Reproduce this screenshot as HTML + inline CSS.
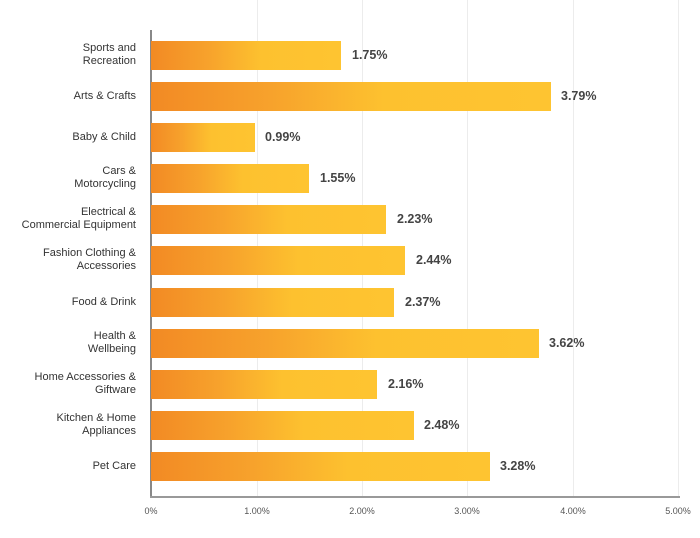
<!DOCTYPE html>
<html><head><style>
body{margin:0;width:700px;height:538px;background:#fff;position:relative;font-family:"Liberation Sans",sans-serif;overflow:hidden}
.g{position:absolute;top:0;height:497px;width:1px;background:#ececec}
.bar{position:absolute;left:151px;height:29px;background:linear-gradient(to right,#f28a24 0%,#f7a22c 30%,#fdc12f 58%,#fec431 100%)}
.lab{position:absolute;right:564px;width:140px;text-align:right;font-size:11px;line-height:13px;color:#333}
.val{position:absolute;font-size:12.5px;font-weight:bold;color:#444;line-height:15px}
.t{position:absolute;top:506px;font-size:9px;color:#555;transform:translateX(-50%)}
</style></head><body>
<div class="g" style="left:257px"></div><div class="g" style="left:362px"></div><div class="g" style="left:467px"></div><div class="g" style="left:573px"></div><div class="g" style="left:678px"></div>
<div style="position:absolute;left:150px;top:30px;width:2px;height:468px;background:#888"></div>
<div style="position:absolute;left:150px;top:496px;width:530px;height:2px;background:#999"></div>

<div class="bar" style="top:41px;width:190px"></div><div class="val" style="left:352px;top:48px">1.75%</div>
<div class="lab" style="top:42px">Sports and<br>Recreation</div>
<div class="bar" style="top:82px;width:400px"></div><div class="val" style="left:561px;top:89px">3.79%</div>
<div class="lab" style="top:90px">Arts &amp; Crafts</div>
<div class="bar" style="top:123px;width:104px"></div><div class="val" style="left:265px;top:130px">0.99%</div>
<div class="lab" style="top:131px">Baby &amp; Child</div>
<div class="bar" style="top:164px;width:158px"></div><div class="val" style="left:320px;top:171px">1.55%</div>
<div class="lab" style="top:165px">Cars &amp;<br>Motorcycling</div>
<div class="bar" style="top:205px;width:235px"></div><div class="val" style="left:397px;top:212px">2.23%</div>
<div class="lab" style="top:206px">Electrical &amp;<br>Commercial Equipment</div>
<div class="bar" style="top:246px;width:254px"></div><div class="val" style="left:416px;top:253px">2.44%</div>
<div class="lab" style="top:247px">Fashion Clothing &amp;<br>Accessories</div>
<div class="bar" style="top:288px;width:243px"></div><div class="val" style="left:405px;top:295px">2.37%</div>
<div class="lab" style="top:296px">Food &amp; Drink</div>
<div class="bar" style="top:329px;width:388px"></div><div class="val" style="left:549px;top:336px">3.62%</div>
<div class="lab" style="top:330px">Health &amp;<br>Wellbeing</div>
<div class="bar" style="top:370px;width:226px"></div><div class="val" style="left:388px;top:377px">2.16%</div>
<div class="lab" style="top:371px">Home Accessories &amp;<br>Giftware</div>
<div class="bar" style="top:411px;width:263px"></div><div class="val" style="left:424px;top:418px">2.48%</div>
<div class="lab" style="top:412px">Kitchen &amp; Home<br>Appliances</div>
<div class="bar" style="top:452px;width:339px"></div><div class="val" style="left:500px;top:459px">3.28%</div>
<div class="lab" style="top:460px">Pet Care</div>

<div class="t" style="left:151px">0%</div><div class="t" style="left:257px">1.00%</div><div class="t" style="left:362px">2.00%</div><div class="t" style="left:467px">3.00%</div><div class="t" style="left:573px">4.00%</div><div class="t" style="left:678px">5.00%</div>
</body></html>
